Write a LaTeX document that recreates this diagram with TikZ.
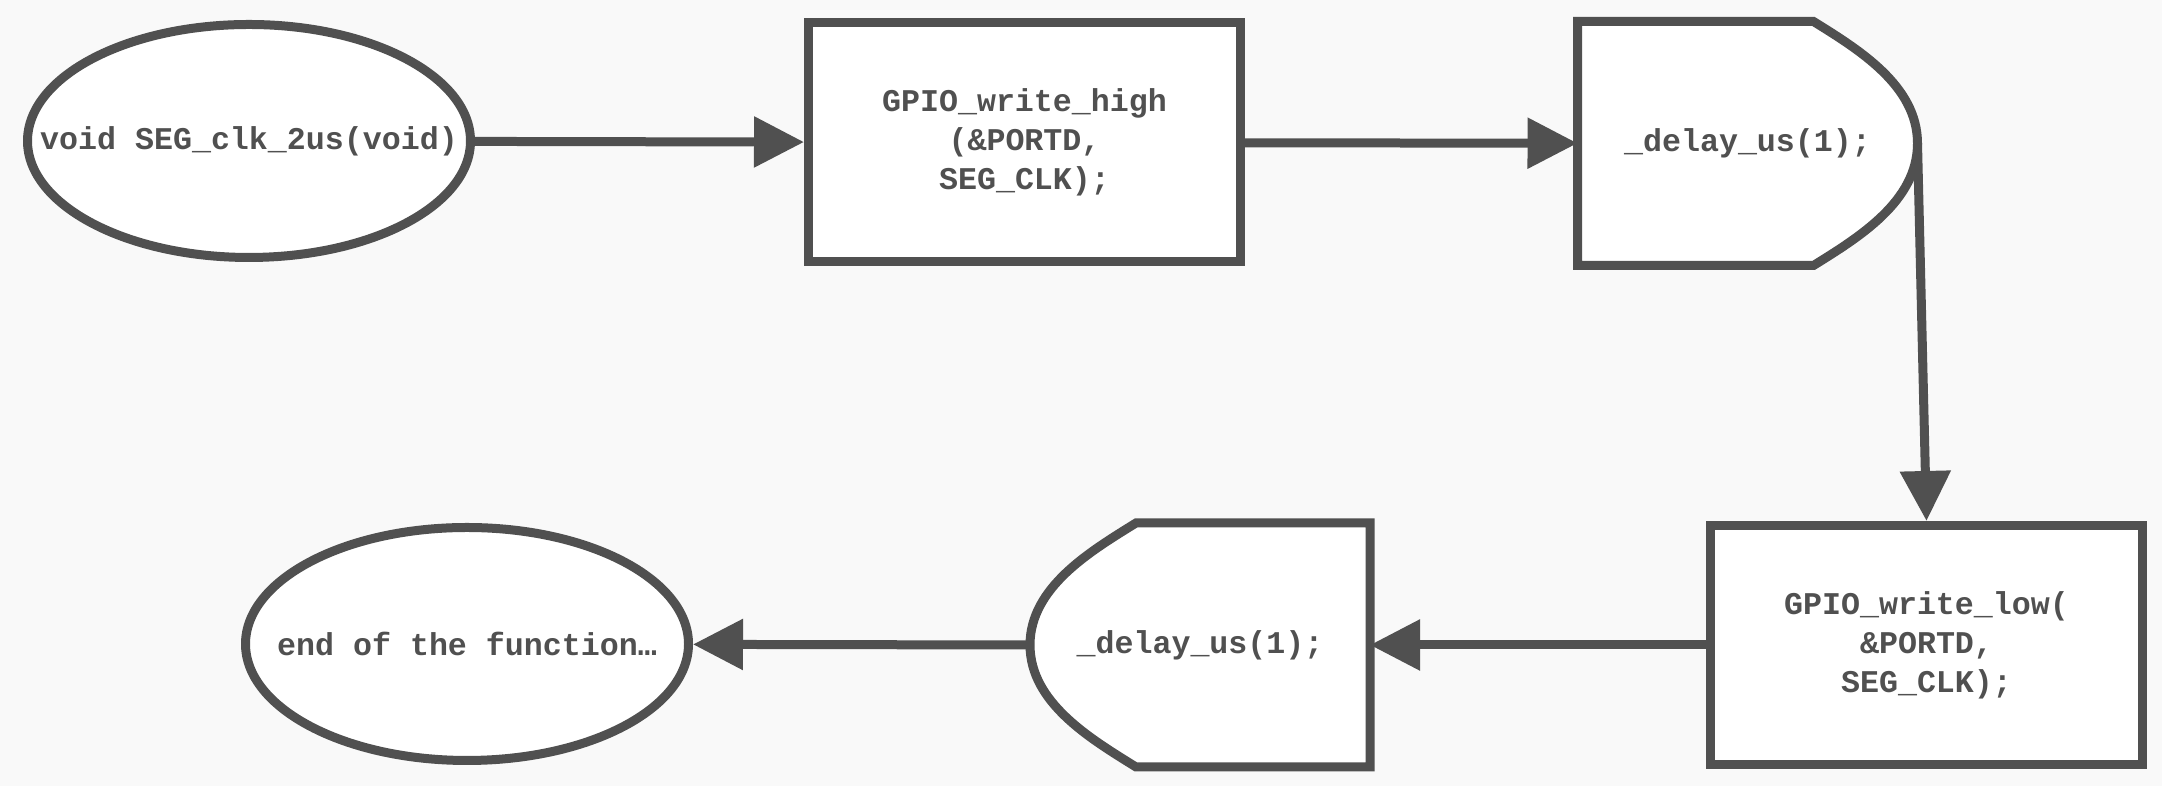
\documentclass[tikz,border=0pt]{standalone}
\usepackage{fontspec}
\setmonofont{Liberation Mono}
\usetikzlibrary{arrows.meta, shapes.geometric, backgrounds}
\definecolor{ink}{HTML}{505050}
\definecolor{paper}{HTML}{F9F9F9}

\begin{document}
\begin{tikzpicture}[ink,
  every node/.style={font=\ttfamily\bfseries\fontsize{9}{11.1}\selectfont, text=ink, inner sep=0pt},
  bold line/.style={line width=0.09cm, draw=ink},
  term/.style={ellipse, draw, bold line, fill=white, minimum width=4.43cm, minimum height=2.33cm},
  proc/.style={rectangle, draw, bold line, fill=white, minimum width=4.32cm, minimum height=2.39cm, align=center},
  wait/.style={rectangle, outer sep=0pt, minimum width=3.40cm, minimum height=2.44cm},
  flow/.style={bold line, -{Triangle[length=5mm, width=4.9mm]}}]

  \useasboundingbox (0,0) rectangle (21.62,7.86);

  % nodes of the flow
  \node[term] (start) at (2.49,6.45)    {\makebox[0pt]{void SEG\_clk\_2us(void)}};
  \node[proc] (high)  at (10.245,6.435) {GPIO\_write\_high\\(\&PORTD,\\SEG\_CLK);};
  \node[wait] (wait1) at (17.475,6.425) {\_delay\_us(1);};
  \node[proc] (low)   at (19.265,1.41)  {GPIO\_write\_low(\\\&PORTD,\\SEG\_CLK);};
  \node[wait] (wait2) at (12.00,1.41)   {\_delay\_us(1);};
  \node[term] (stop)  at (4.67,1.42)    {\makebox[0pt]{end of the function…}};

  % delay outlines behind the texts
  \begin{pgfonlayer}{background}
    \fill[paper] (0,0) rectangle (21.62,7.86);
    \filldraw[bold line, fill=white] (wait1.north west) -- ([xshift=-1.04cm]wait1.north east)
      .. controls ([xshift=-0.59cm, yshift=-0.28cm]wait1.north east) and ([yshift=0.58cm]wait1.east) .. (wait1.east)
      .. controls ([yshift=-0.58cm]wait1.east) and ([xshift=-0.59cm, yshift=0.28cm]wait1.south east) .. ([xshift=-1.04cm]wait1.south east)
      -- (wait1.south west) -- cycle;
    \filldraw[bold line, fill=white] (wait2.north east) -- ([xshift=1.06cm]wait2.north west)
      .. controls ([xshift=0.61cm, yshift=-0.28cm]wait2.north west) and ([yshift=0.58cm]wait2.west) .. (wait2.west)
      .. controls ([yshift=-0.58cm]wait2.west) and ([xshift=0.61cm, yshift=0.28cm]wait2.south west) .. ([xshift=1.06cm]wait2.south west)
      -- (wait2.south east) -- cycle;
  \end{pgfonlayer}

  % connectors
  \draw[flow] (start) -- (high);
  \draw[flow] (high) -- (wait1);
  \draw[flow] (wait1.east) -- (low.north);
  \draw[flow] (low) -- (wait2);
  \draw[flow] (wait2.west) -- (stop);
\end{tikzpicture}
\end{document}
